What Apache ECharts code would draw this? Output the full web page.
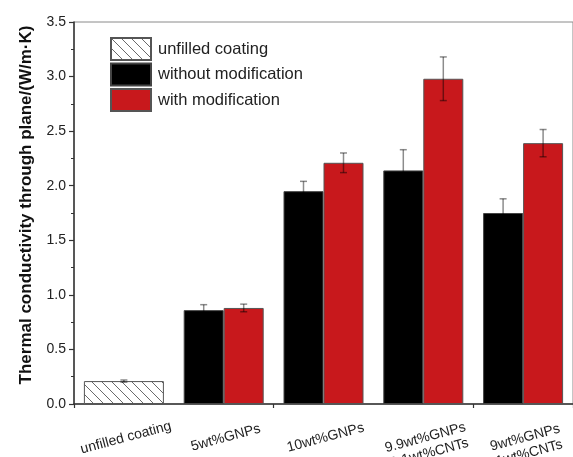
<!DOCTYPE html>
<html>
<head>
<meta charset="utf-8">
<script src="https://cdn.jsdelivr.net/npm/echarts@6/dist/echarts.min.js"></script>
<style>html,body{margin:0;padding:0;background:#fff}#c{width:573px;height:457px}</style>
</head>
<body>
<div id="c"></div>
<script>
const categories = ['unfilled coating', '5wt%GNPs', '10wt%GNPs', '9.9wt%GNPs\n0.1wt%CNTs', '9wt%GNPs\n1wt%CNTs'];
const unfilledValues = [0.21, '-', '-', '-', '-'];
const unfilledErrors = [0.01, 0, 0, 0, 0];
const withoutValues = ['-', 0.86, 1.95, 2.14, 1.75];
const withoutErrors = [0, 0.05, 0.09, 0.19, 0.13];
const withValues = ['-', 0.88, 2.21, 2.98, 2.39];
const withErrors = [0, 0.035, 0.09, 0.2, 0.125];
const yTicks = [0, 0.5, 1.0, 1.5, 2.0, 2.5, 3.0, 3.5];
const seriesNames = ['unfilled coating', 'without modification', 'with modification'];

const FONT = '"Liberation Sans", Arial, sans-serif';

// hatch pattern
const pc = document.createElement('canvas');
pc.width = 10; pc.height = 10;
const px = pc.getContext('2d');
px.fillStyle = '#fff'; px.fillRect(0, 0, 10, 10);
px.strokeStyle = '#6a6a6a'; px.lineWidth = 1;
for (const k of [-10, 0, 10]) { px.beginPath(); px.moveTo(k, 0); px.lineTo(k + 10, 10); px.stroke(); }

function errData(vals, errs, side) {
  const out = [];
  vals.forEach((v, i) => { if (v !== '-') out.push([i, v - errs[i], v + errs[i], side]); });
  return out;
}
const errorData = errData(unfilledValues, unfilledErrors, 0)
  .concat(errData(withoutValues, withoutErrors, -1))
  .concat(errData(withValues, withErrors, 1));

const chart = echarts.init(document.getElementById('c'), null, {renderer: 'canvas'});
chart.setOption({
  animation: false,
  backgroundColor: '#fff',
  textStyle: {fontFamily: FONT},
  grid: {left: 74, top: 22, width: 499, height: 382, show: true, borderColor: '#8a8a8a', borderWidth: 1, backgroundColor: 'transparent', containLabel: false, outerBoundsMode: 'none'},
  legend: {
    data: seriesNames, orient: 'vertical', left: 110, top: 37, padding: 0,
    icon: 'rect',
    itemWidth: 40, itemHeight: 22, itemGap: 1.5,
    textStyle: {fontSize: 16.5, color: '#222', fontFamily: FONT, padding: [0, 0, 0, 2], lineHeight: 20}
  },
  xAxis: [{
    type: 'category', data: categories, position: 'bottom',
    axisLine: {lineStyle: {color: '#333', width: 1.5}},
    axisTick: {alignWithLabel: true, length: 7, lineStyle: {color: '#333', width: 1.2}},
    axisLabel: {interval: 0, rotate: 15, align: 'center', verticalAlign: 'top', margin: 26, fontSize: 14, color: '#222', fontFamily: FONT, lineHeight: 16}
  }, {
    type: 'category', data: categories, position: 'bottom',
    axisLine: {show: false},
    axisTick: {show: true, length: 4, lineStyle: {color: '#333', width: 1.2}},
    axisLabel: {show: false}
  }],
  yAxis: {
    type: 'value', min: 0, max: 3.5, interval: 0.5,
    name: 'Thermal conductivity through plane/(W/m\u00b7K)', nameLocation: 'middle', nameGap: 39,
    nameTextStyle: {fontSize: 17, fontWeight: 'bold', color: '#111', fontFamily: FONT, padding: [0, 0, 0, 16]},
    axisLine: {show: true, lineStyle: {color: '#333', width: 1.5}},
    axisTick: {show: true, length: 5, lineStyle: {color: '#333', width: 1.2}},
    minorTick: {show: true, splitNumber: 2, length: 3, lineStyle: {color: '#333', width: 1}},
    splitLine: {show: false},
    axisLabel: {fontSize: 14, color: '#222', margin: 8, fontFamily: FONT,
      formatter: v => yTicks.includes(v) ? v.toFixed(1) : ''}
  },
  series: [{
    name: seriesNames[0], type: 'bar', xAxisIndex: 1, data: unfilledValues, barWidth: 80,
    itemStyle: {color: {image: pc, repeat: 'repeat'}, borderColor: '#555', borderWidth: 1}
  }, {
    name: seriesNames[1], type: 'bar', xAxisIndex: 0, data: withoutValues, barWidth: 40, barGap: '0%',
    itemStyle: {color: '#000', borderColor: '#444', borderWidth: 1}
  }, {
    name: seriesNames[2], type: 'bar', xAxisIndex: 0, data: withValues, barWidth: 40, barGap: '0%',
    itemStyle: {color: '#c8181c', borderColor: '#555', borderWidth: 1}
  }, {
    name: 'errors', type: 'custom', xAxisIndex: 0, data: errorData, z: 10,
    encode: {x: 0, y: [1, 2]},
    renderItem: function (params, api) {
      const lo = api.coord([api.value(0), api.value(1)]);
      const hi = api.coord([api.value(0), api.value(2)]);
      const dx = api.value(3) * 20;
      const x = lo[0] + dx;
      const cap = 3.5;
      const st = {stroke: 'rgba(0,0,0,0.45)', lineWidth: 1.5};
      return {type: 'group', children: [
        {type: 'line', shape: {x1: x, y1: lo[1], x2: x, y2: hi[1]}, style: st},
        {type: 'line', shape: {x1: x - cap, y1: lo[1], x2: x + cap, y2: lo[1]}, style: st},
        {type: 'line', shape: {x1: x - cap, y1: hi[1], x2: x + cap, y2: hi[1]}, style: st}
      ]};
    }
  }]
});
</script>
</body>
</html>
